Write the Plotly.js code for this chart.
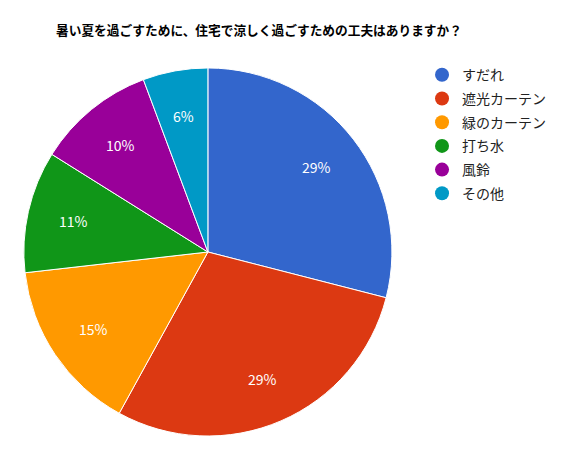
<!DOCTYPE html>
<html>
<head>
<meta charset="utf-8">
<script src="https://cdn.plot.ly/plotly-3.0.1.min.js"></script>
<style>
  html, body { margin: 0; padding: 0; background: #fff; }
  #chart { width: 568px; height: 459px; }
</style>
</head>
<body>
<div id="chart"></div>
<script>
  // answers and their shares (percent)
  const labels = ['すだれ', '遮光カーテン', '緑のカーテン', '打ち水', '風鈴', 'その他'];
  const shares = [29.0, 29.0, 15.2, 10.7, 10.4, 5.7];
  const colors = ['#3366cc', '#dc3912', '#ff9900', '#109618', '#990099', '#0099c6'];

  const font = '"Noto Sans CJK JP", "Noto Sans", sans-serif';
  const W = 568, H = 459;
  const dom = {x: [0.042, 0.690], y: [0.050, 0.852]};

  const pie = {
    type: 'pie',
    labels: labels,
    values: shares,
    sort: false,
    direction: 'clockwise',
    rotation: 0,
    marker: {colors: colors, line: {color: '#fff', width: 1}},
    textinfo: 'none',
    hoverinfo: 'label+percent',
    showlegend: false,
    domain: dom
  };

  // percent labels sit at 3/4 of the radius, on each slice's mid angle
  const total = shares.reduce((a, b) => a + b, 0);
  const cx = (dom.x[0] + dom.x[1]) / 2 * W;
  const cy = (1 - (dom.y[0] + dom.y[1]) / 2) * H;
  const R = Math.min((dom.x[1] - dom.x[0]) * W, (dom.y[1] - dom.y[0]) * H) / 2;
  let cum = 0;
  const annotations = shares.map(v => {
    const mid = (cum + v / 2) / total * 2 * Math.PI;
    cum += v;
    return {
      xref: 'paper', yref: 'paper',
      x: (cx + 0.75 * R * Math.sin(mid)) / W,
      y: 1 - (cy - 0.75 * R * Math.cos(mid)) / H,
      text: Math.round(v / total * 100) + '%',
      showarrow: false,
      xanchor: 'center', yanchor: 'middle',
      font: {family: font, size: 14, color: '#fff'}
    };
  });

  // legend with round markers, one dummy trace per answer
  const legendTraces = labels.map((label, i) => ({
    type: 'scatter',
    mode: 'markers',
    x: [null],
    y: [null],
    name: label,
    legendgroup: 'g' + i,
    marker: {symbol: 'circle', size: 14, color: colors[i]},
    hoverinfo: 'skip'
  }));

  const layout = {
    width: W,
    height: H,
    margin: {l: 0, r: 0, t: 0, b: 0},
    paper_bgcolor: '#fff',
    plot_bgcolor: 'rgba(0,0,0,0)',
    font: {family: font, color: '#222'},
    title: {
      text: '暑い夏を過ごすために、住宅で涼しく過ごすための工夫はありますか？',
      font: {family: font, size: 12.7, color: '#000', weight: 'bold'},
      x: 0.456,
      xanchor: 'center',
      y: 0.933,
      yanchor: 'middle'
    },
    xaxis: {visible: false, domain: [0.9, 0.91]},
    yaxis: {visible: false, domain: [0.9, 0.91]},
    showlegend: true,
    legend: {
      x: 0.743,
      y: 0.871,
      xanchor: 'left',
      yanchor: 'top',
      font: {family: font, size: 14, color: '#222'},
      tracegroupgap: 2.5,
      itemwidth: 30,
      bgcolor: 'rgba(0,0,0,0)'
    },
    annotations: annotations
  };

  Plotly.newPlot('chart', [pie].concat(legendTraces), layout, {displayModeBar: false});
</script>
</body>
</html>
